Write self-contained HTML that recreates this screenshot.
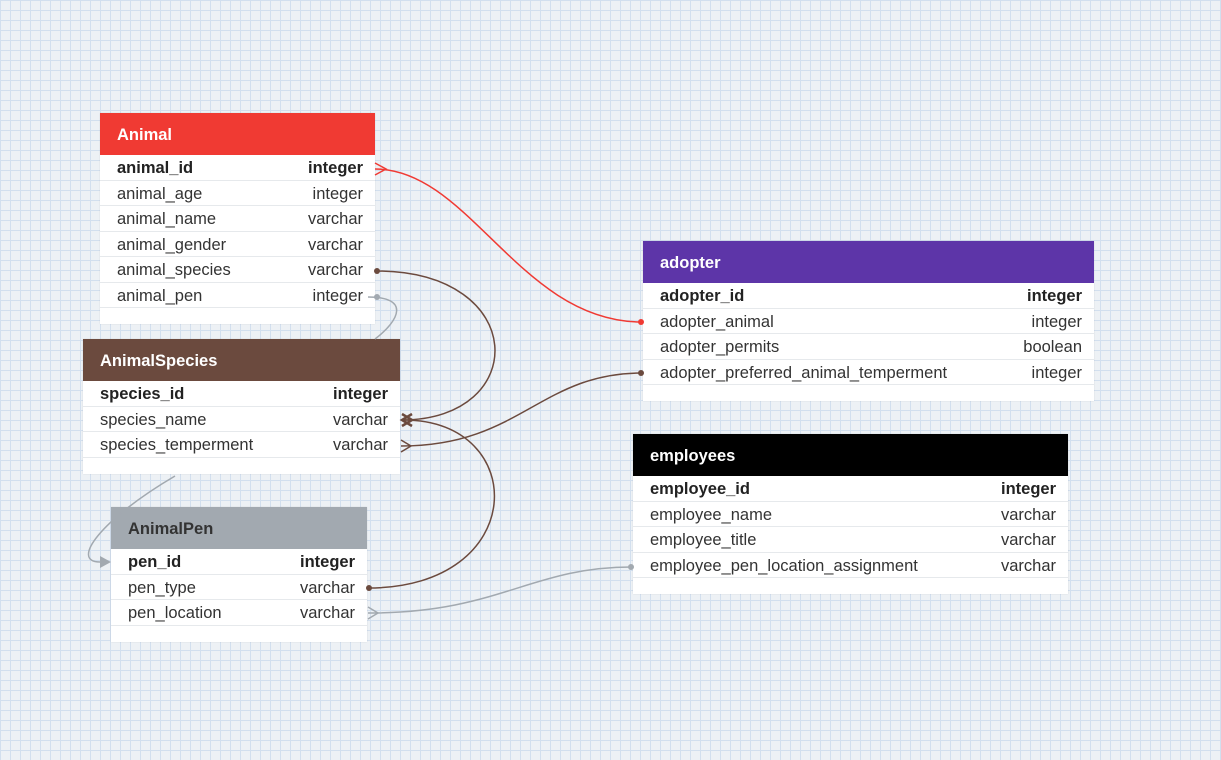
<!DOCTYPE html>
<html><head><meta charset="utf-8"><style>
body{margin:0;width:1221px;height:760px;overflow:hidden;font-family:"Liberation Sans",sans-serif;
background-color:#edf1f5;
background-image:linear-gradient(#d2dfee 1px,transparent 1px),linear-gradient(90deg,#d2dfee 1px,transparent 1px);
background-size:10px 10px;position:relative}
.t{position:absolute;background:#fff;box-shadow:0 0 1px rgba(0,0,0,.15)}
.h{height:42px;line-height:44px;color:#fff;font-weight:bold;font-size:16.5px;padding-left:17px}
.r{height:24.5px;line-height:27px;border-bottom:1px solid #e6e9ec;font-size:16.5px;color:#333;padding:0 12px 0 17px;display:flex;justify-content:space-between}
.r.b{font-weight:bold;color:#222}
.f{height:16px}
svg{position:absolute;left:0;top:0}
</style></head><body>
<div class="t" style="left:100px;top:113px;width:275px">
<div class="h" style="background:#f03a33">Animal</div>
<div class="r b"><span>animal_id</span><span>integer</span></div>
<div class="r"><span>animal_age</span><span>integer</span></div>
<div class="r"><span>animal_name</span><span>varchar</span></div>
<div class="r"><span>animal_gender</span><span>varchar</span></div>
<div class="r"><span>animal_species</span><span>varchar</span></div>
<div class="r"><span>animal_pen</span><span>integer</span></div>
<div class="f"></div></div>
<div class="t" style="left:83px;top:339px;width:317px">
<div class="h" style="background:#6b4a3e">AnimalSpecies</div>
<div class="r b"><span>species_id</span><span>integer</span></div>
<div class="r"><span>species_name</span><span>varchar</span></div>
<div class="r"><span>species_temperment</span><span>varchar</span></div>
<div class="f"></div></div>
<div class="t" style="left:111px;top:507px;width:256px">
<div class="h" style="background:#a2a9b0;color:#333">AnimalPen</div>
<div class="r b"><span>pen_id</span><span>integer</span></div>
<div class="r"><span>pen_type</span><span>varchar</span></div>
<div class="r"><span>pen_location</span><span>varchar</span></div>
<div class="f"></div></div>
<div class="t" style="left:643px;top:241px;width:451px">
<div class="h" style="background:#5d35a8">adopter</div>
<div class="r b"><span>adopter_id</span><span>integer</span></div>
<div class="r"><span>adopter_animal</span><span>integer</span></div>
<div class="r"><span>adopter_permits</span><span>boolean</span></div>
<div class="r"><span>adopter_preferred_animal_temperment</span><span>integer</span></div>
<div class="f"></div></div>
<div class="t" style="left:633px;top:434px;width:435px">
<div class="h" style="background:#000">employees</div>
<div class="r b"><span>employee_id</span><span>integer</span></div>
<div class="r"><span>employee_name</span><span>varchar</span></div>
<div class="r"><span>employee_title</span><span>varchar</span></div>
<div class="r"><span>employee_pen_location_assignment</span><span>varchar</span></div>
<div class="f"></div></div>
<svg width="1221" height="760" fill="none" stroke-width="1.5">
<path d="M375 169 C470 169 520 322 642 322" stroke="#f03a33"/>
<path d="M375 163 L386 169 L375 175" stroke="#f03a33"/>
<circle cx="641" cy="322" r="3" fill="#f03a33" stroke="none"/>
<path d="M376 271 C530 271 530 420 402 420" stroke="#6b4a3e"/>
<circle cx="377" cy="271" r="3" fill="#6b4a3e" stroke="none"/>
<path d="M402 414 L412 420 L402 426 M412 414 L402 420 L412 426" stroke="#6b4a3e" stroke-width="2.5"/>
<path d="M368 588 C530 588 530 420 404 420" stroke="#6b4a3e"/>
<circle cx="369" cy="588" r="3" fill="#6b4a3e" stroke="none"/>
<path d="M401 446 C520 446 540 373 642 373" stroke="#6b4a3e"/>
<path d="M401 440 L411 446 L401 452" stroke="#6b4a3e"/>
<circle cx="641" cy="373" r="3" fill="#6b4a3e" stroke="none"/>
<path d="M368 297 C410 297 400 320 375 339" stroke="#a2a9b0"/>
<circle cx="377" cy="297" r="3" fill="#a2a9b0" stroke="none"/>
<path d="M175 476 C100 520 70 562 100 562" stroke="#a2a9b0"/>
<path d="M100 556 L111 562 L100 568 Z" fill="#a2a9b0" stroke="none"/>
<path d="M368 613 C500 613 530 567 632 567" stroke="#a2a9b0"/>
<path d="M368 607 L378 613 L368 619" stroke="#a2a9b0"/>
<circle cx="631" cy="567" r="3" fill="#a2a9b0" stroke="none"/>
</svg>
</body></html>
